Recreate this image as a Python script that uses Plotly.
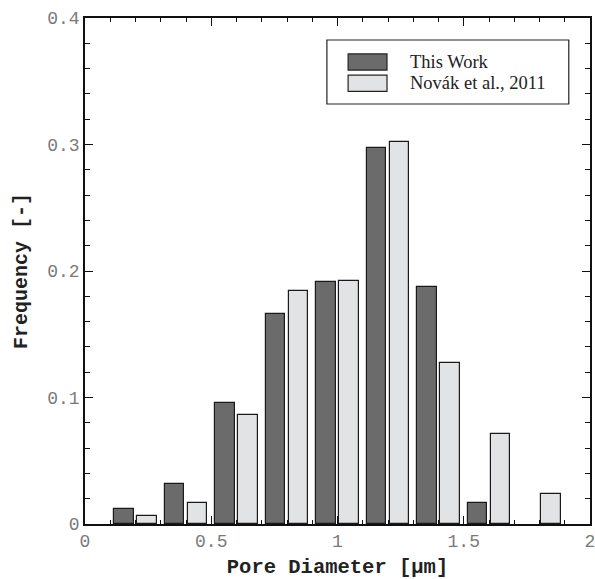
import plotly.graph_objects as go

# ---- data ----
bin_centers = [0.2, 0.4, 0.6, 0.8, 1.0, 1.2, 1.4, 1.6, 1.8]
this_work = [0.012, 0.032, 0.096, 0.166, 0.191, 0.297, 0.187, 0.017, None]
novak_2011 = [0.006, 0.017, 0.086, 0.184, 0.192, 0.302, 0.127, 0.071, 0.024]
series_names = ["This Work", "Novák et al., 2011"]
series_colors = ["#6b6b6b", "#e2e3e4"]
x_title = "Pore Diameter [µm]"
y_title = "Frequency [-]"

fig = go.Figure()
for vals, name, col, off in [
    (this_work, series_names[0], series_colors[0], -0.084),
    (novak_2011, series_names[1], series_colors[1], 0.006),
]:
    fig.add_trace(go.Bar(
        x=bin_centers, y=vals, name=name, width=0.078, offset=off,
        marker=dict(color=col, line=dict(color="#1a1a1a", width=1.2)),
        showlegend=False,
    ))

mono = "Liberation Mono, Courier New, monospace"
axis_common = dict(
    showline=True, linecolor="#111", linewidth=1.5, mirror="ticks",
    ticks="inside", tickcolor="#111", tickwidth=1, ticklen=8,
    showgrid=False, zeroline=False,
    tickfont=dict(family=mono, size=18, color="#7a7a7a"),
    automargin=False, ticklabeloverflow="allow",
)
fig.update_xaxes(
    range=[0, 2], dtick=0.5, tick0=0,
    minor=dict(dtick=0.1, ticks="inside", ticklen=4, tickcolor="#111", tickwidth=1),
    title=dict(text=x_title, font=dict(family=mono, size=20.5, color="#222", weight="bold"), standoff=9),
    **axis_common,
)
fig.update_yaxes(
    range=[0, 0.4], dtick=0.1, tick0=0,
    minor=dict(dtick=0.02, ticks="inside", ticklen=5, tickcolor="#111", tickwidth=1),
    title=dict(text=y_title, font=dict(family=mono, size=20, color="#222", weight="bold"), standoff=14),
    **axis_common,
)

# legend drawn as shapes + text
serif = "Liberation Serif, Times New Roman, serif"
fig.add_shape(type="rect", xref="paper", yref="paper", x0=0.479, x1=0.958, y0=0.830, y1=0.9565,
              line=dict(color="#222", width=1.2), fillcolor="white")
rows = [(0.913, series_colors[0], series_names[0]), (0.871, series_colors[1], series_names[1])]
for yc, col, name in rows:
    fig.add_shape(type="rect", xref="paper", yref="paper", x0=0.521, x1=0.598,
                  y0=yc - 0.016, y1=yc + 0.016, line=dict(color="#222", width=1.2), fillcolor=col)
    fig.add_annotation(xref="paper", yref="paper", x=0.640, y=yc, text=name, showarrow=False,
                       xanchor="left", yanchor="middle",
                       font=dict(family=serif, size=18.5, color="#222"))

fig.update_layout(
    width=595, height=579,
    margin=dict(l=85, r=5, t=18, b=55),
    plot_bgcolor="white", paper_bgcolor="white",
    barmode="overlay", bargap=0,
)
fig.write_html("out.html", config={"displayModeBar": False},
               post_script="document.body.style.margin='0';document.body.style.overflow='hidden';")
